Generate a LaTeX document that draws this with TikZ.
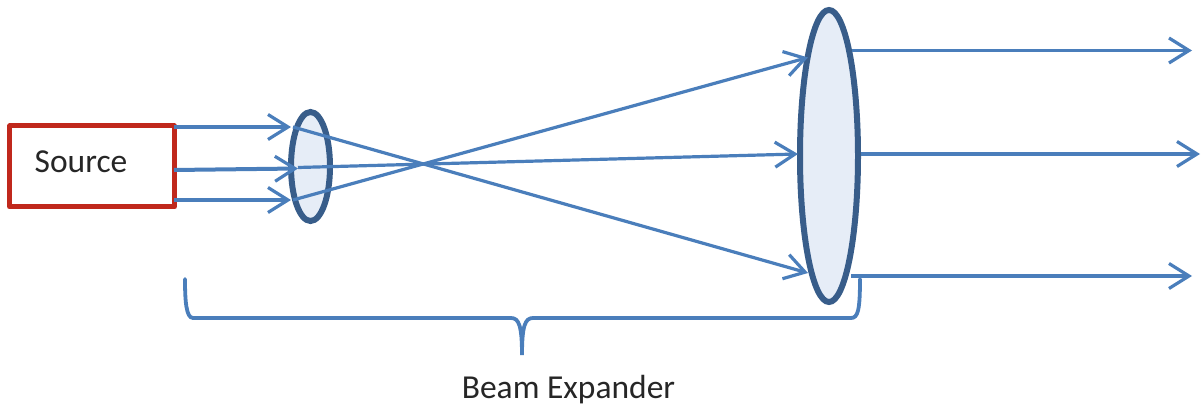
\documentclass[tikz,border=0pt]{standalone}
\usepackage{fontspec}
\setmainfont{Carlito}
\usetikzlibrary{arrows.meta,shapes.geometric}
\definecolor{raycol}{HTML}{4A7EBB}
\definecolor{lensedge}{HTML}{385D8A}
\definecolor{lensfill}{HTML}{E6EDF7}
\definecolor{boxred}{HTML}{C0281C}
\definecolor{inkcol}{HTML}{262626}
\tikzset{
  ray/.style={draw=raycol,line width=3.2pt,-{Straight Barb[length=20pt,width=25pt,line width=3.2pt]}},
  thickray/.style={ray,line width=4pt},
  bracket/.style={draw=raycol,line width=3.8pt,line cap=round},
  lens/.style={ellipse,draw=lensedge,fill=lensfill,line width=6pt,inner sep=0pt,outer sep=0pt},
  sourcebox/.style={rectangle,draw=boxred,line width=5pt,line join=round,fill=white,inner sep=0pt,outer sep=0pt,minimum width=164.5pt,minimum height=81pt},
  label/.style={font=\fontsize{33.5}{38}\selectfont,text=inkcol,inner sep=0pt}
}
\begin{document}
\begin{tikzpicture}[x=1pt,y=-1pt]
\useasboundingbox (0,0) rectangle (1203,409);
% optical elements
\node[sourcebox] (src) at (92,166.5) {};
\node[label] (srclabel) at (81,162) {Source};
\node[lens,minimum width=39pt,minimum height=109pt] (small) at (310.5,166.5) {};
\node[lens,minimum width=58pt,minimum height=292pt] (big) at (829,156) {};
% free ends
\coordinate (s1) at (174,127);
\coordinate (s2) at (174,170);
\coordinate (s3) at (174,200);
\coordinate (i1) at (291,127);
\coordinate (i2) at (298,168.5);
\coordinate (i3) at (291,200);
\coordinate (c1) at (293,127);
\coordinate (c2) at (298,167.5);
\coordinate (c3) at (293,200);
\coordinate (o1) at (808,57.5);
\coordinate (o2) at (798,154);
\coordinate (o3) at (808,273);
\coordinate (b1) at (852,50.5);
\coordinate (b2) at (861,154);
\coordinate (b3) at (851,276);
\coordinate (e1) at (1192,50.5);
\coordinate (e2) at (1200,154);
\coordinate (e3) at (1192,276);
% rays
\draw[ray] (s1) -- (i1);
\draw[thickray] (s2) -- (i2);
\draw[ray] (s3) -- (i3);
\draw[ray] (c1) -- (o3);
\draw[ray] (c2) -- (o2);
\draw[ray] (c3) -- (o1);
\draw[ray] (b1) -- (e1);
\draw[ray] (b2) -- (e2);
\draw[ray] (b3) -- (e3);
% brace
\coordinate (bl) at (185,279);
\coordinate (br) at (860,279);
\coordinate (bm) at (522,355);
\draw[bracket] (bl) .. controls (185,300) and (186,318) .. (193,318)
  -- (511,318) .. controls (519,318) and (522,326) .. (bm)
  .. controls (522,326) and (525,318) .. (533,318)
  -- (851,318) .. controls (858,318) and (860,310) .. (br);
\node[label] (belabel) at (568.5,390) {Beam Expander};
\end{tikzpicture}
\end{document}
